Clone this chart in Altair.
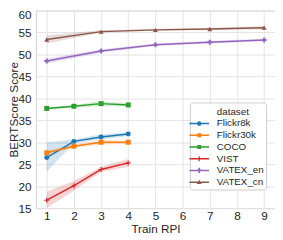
import altair as alt
import pandas as pd

datasets = ["Flickr8k", "Flickr30k", "COCO", "VIST", "VATEX_en", "VATEX_cn"]
colors = ["#1f77b4", "#ff7f0e", "#2ca02c", "#d62728", "#9467bd", "#8c564b"]
legend_heading = "dataset"

flickr8k_rpi = [1, 2, 3, 4]
flickr8k_mean = [26.5, 30.2, 31.2, 31.9]
flickr8k_lo = [23.3, 29.8, 30.6, 31.4]
flickr8k_hi = [30.0, 30.6, 31.8, 32.3]

flickr30k_rpi = [1, 2, 3, 4]
flickr30k_mean = [27.6, 29.1, 30.0, 30.0]
flickr30k_lo = [27.2, 28.7, 29.5, 29.6]
flickr30k_hi = [28.0, 29.5, 30.5, 30.4]

coco_rpi = [1, 2, 3, 4]
coco_mean = [37.7, 38.2, 38.8, 38.5]
coco_lo = [37.4, 37.9, 38.2, 38.2]
coco_hi = [38.0, 38.5, 39.4, 38.8]

vist_rpi = [1, 2, 3, 4]
vist_mean = [16.8, 20.1, 23.8, 25.3]
vist_lo = [15.0, 19.0, 23.2, 24.4]
vist_hi = [18.7, 21.2, 24.4, 26.2]

vatex_en_rpi = [1, 3, 5, 7, 9]
vatex_en_mean = [48.5, 50.8, 52.2, 52.8, 53.3]
vatex_en_lo = [47.9, 50.4, 51.9, 52.5, 53.0]
vatex_en_hi = [49.1, 51.2, 52.5, 53.1, 53.6]

vatex_cn_rpi = [1, 3, 5, 7, 9]
vatex_cn_mean = [53.4, 55.2, 55.6, 55.8, 56.1]
vatex_cn_lo = [52.5, 55.0, 55.4, 55.6, 55.7]
vatex_cn_hi = [54.4, 55.5, 55.8, 56.0, 56.5]

x_ticks = [1, 2, 3, 4, 5, 6, 7, 8, 9]
y_ticks = [15, 20, 25, 30, 35, 40, 45, 50, 55, 60]

series = [
    ("Flickr8k", flickr8k_rpi, flickr8k_mean, flickr8k_lo, flickr8k_hi),
    ("Flickr30k", flickr30k_rpi, flickr30k_mean, flickr30k_lo, flickr30k_hi),
    ("COCO", coco_rpi, coco_mean, coco_lo, coco_hi),
    ("VIST", vist_rpi, vist_mean, vist_lo, vist_hi),
    ("VATEX_en", vatex_en_rpi, vatex_en_mean, vatex_en_lo, vatex_en_hi),
    ("VATEX_cn", vatex_cn_rpi, vatex_cn_mean, vatex_cn_lo, vatex_cn_hi),
]
rows = []
for name, xs, ms, los, his in series:
    for x, m, lo, hi in zip(xs, ms, los, his):
        rows.append({"dataset": name, "rpi": x, "score": m, "lo": lo, "hi": hi})
df = pd.DataFrame(rows)

# plot marker shapes
plus_thin = "M-0.22,-1H0.22V-0.22H1V0.22H0.22V1H-0.22V0.22H-1V-0.22H-0.22Z"
plot_shapes = ["circle", "square", "square", plus_thin, "cross", "triangle-up"]

# legend symbols: line + marker (unit coords of a 14px box, clockwise subpaths)
line = "M-1.43,-0.105H1.43V0.105H-1.43Z"
leg_shapes = [
    line + "M0.34,0A0.34,0.34 0 1 1 -0.34,0A0.34,0.34 0 1 1 0.34,0Z",
    line + "M-0.29,-0.29H0.29V0.29H-0.29Z",
    line + "M-0.29,-0.29H0.29V0.29H-0.29Z",
    line + "M-0.085,-0.37H0.085V0.37H-0.085Z",
    line + "M-0.13,-0.38H0.13V-0.13H0.38V0.13H0.13V0.38H-0.13V0.13H-0.38V-0.13H-0.13Z",
    line + "M0,-0.37L0.37,0.27H-0.37Z",
]

FONT = "Liberation Sans"
TXT = "#262626"

y_axis = alt.Axis(values=y_ticks, labelPadding=5, labelOverlap=False,
                  labelOffset=alt.condition("datum.value == 60", alt.value(4.5), alt.value(0)),
                  titleX=-18.5, titleY=101, titleAngle=270,
                  titleBaseline="alphabetic", titleAlign="center")
x_axis = alt.Axis(values=x_ticks, labelPadding=3, titlePadding=2, labelOverlap=False)
x_scale = alt.Scale(domain=[0.6, 9.4], nice=False, zero=False)
y_scale = alt.Scale(domain=[15, 60], nice=False, zero=False)
color_scale = alt.Scale(domain=datasets, range=colors)

base = alt.Chart(df)

band = base.mark_area(opacity=0.2).encode(
    x=alt.X("rpi:Q", title="Train RPI", scale=x_scale, axis=x_axis),
    y=alt.Y("lo:Q", title="BERTScore Score", scale=y_scale, axis=y_axis),
    y2="hi:Q",
    color=alt.Color("dataset:N", scale=color_scale, legend=None),
    detail="dataset:N",
)

lines = base.mark_line(strokeWidth=1.5).encode(
    x=alt.X("rpi:Q", title="Train RPI", scale=x_scale, axis=x_axis),
    y=alt.Y("score:Q", title="BERTScore Score", scale=y_scale, axis=y_axis),
    color=alt.Color("dataset:N", scale=color_scale, legend=None),
)

points = base.mark_point(filled=True, size=26, opacity=1).encode(
    x=alt.X("rpi:Q", title="Train RPI", scale=x_scale, axis=x_axis),
    y=alt.Y("score:Q", title="BERTScore Score", scale=y_scale, axis=y_axis),
    color=alt.Color("dataset:N", scale=color_scale, legend=None),
    shape=alt.Shape("dataset:N", scale=alt.Scale(domain=datasets, range=plot_shapes), legend=None),
)

# legend: heading as a symbol-less first row, so it sits over the labels
leg_domain = [legend_heading] + datasets
leg_colors = ["#ffffff"] + colors
leg_paths = ["M0,0Z"] + leg_shapes

leg = alt.Legend(
    title=None, orient="none", legendX=157.5, legendY=94,
    symbolSize=196, symbolOpacity=1, symbolStrokeWidth=0,
    rowPadding=0, labelOffset=11,
)

legend_layer = base.mark_point(filled=True, opacity=0, size=1).encode(
    x=alt.X("rpi:Q", title="Train RPI", scale=x_scale, axis=x_axis),
    y=alt.Y("score:Q", title="BERTScore Score", scale=y_scale, axis=y_axis),
    color=alt.Color("dataset:N", scale=alt.Scale(domain=leg_domain, range=leg_colors), legend=leg),
    shape=alt.Shape("dataset:N", scale=alt.Scale(domain=leg_domain, range=leg_paths), legend=leg),
)

chart = alt.layer(band, lines, points, legend_layer).resolve_scale(
    color="independent", shape="independent"
).properties(
    width=244.5, height=202,
    autosize=alt.AutoSizeParams(type="none"),
    padding={"left": 28.5, "top": 0, "right": 0, "bottom": 30},
).configure_view(
    stroke="#d0d0d0", strokeWidth=1
).configure_axis(
    grid=True, gridColor="#e2e2e2", gridWidth=1, domain=False, ticks=False,
    labelOverlap=False,
    labelFont=FONT, labelFontSize=12, labelColor=TXT,
    titleFont=FONT, titleFontSize=12, titleFontWeight="normal", titleColor=TXT,
).configure_legend(
    fillColor="white", strokeColor="#cccccc", cornerRadius=3, padding=2.5,
    labelFont=FONT, labelFontSize=10, labelColor=TXT,
)

chart.save("out.html", embed_options={"renderer": "svg", "actions": False})
